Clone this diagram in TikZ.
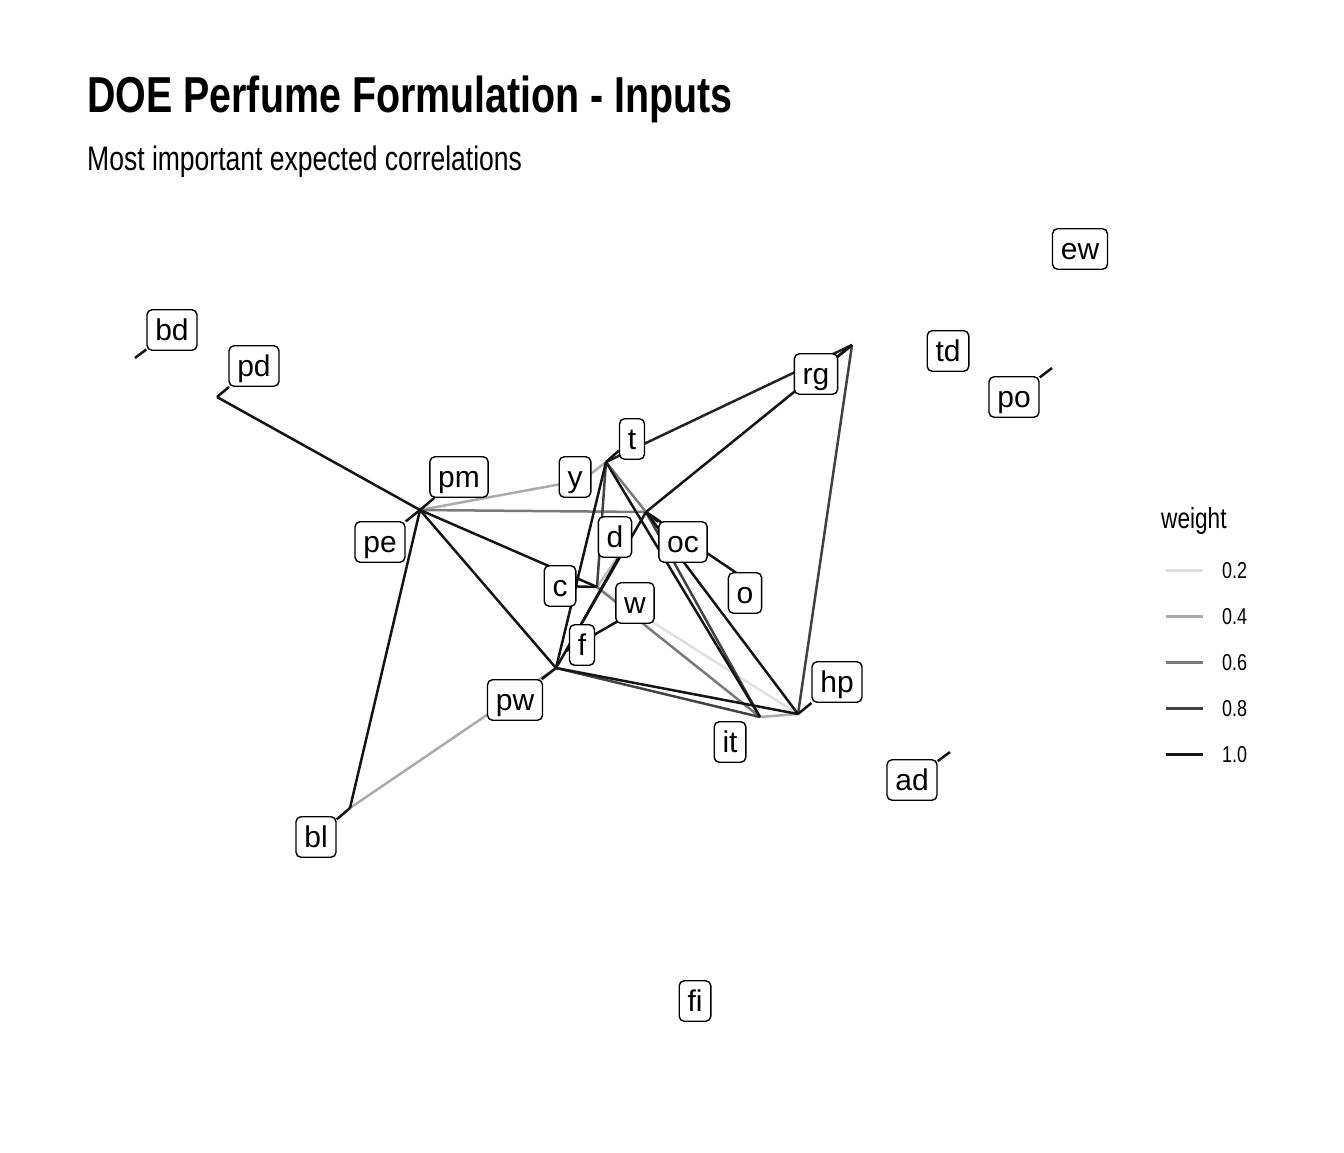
\documentclass[tikz,border=0pt]{standalone}
\usepackage{fontspec}
\setmainfont{Liberation Sans}
\newfontfamily\narrowfont[FakeStretch=0.78]{Liberation Sans}
\usetikzlibrary{backgrounds}

\colorlet{wtwo}{black!12}
\colorlet{wthree}{black!25}
\colorlet{wfour}{black!33}
\colorlet{wsix}{black!52}
\colorlet{weight}{black!74}
\colorlet{wnine}{black!86}
\colorlet{wten}{black!92}

\begin{document}
\begin{tikzpicture}[
    x = 1pt,
    y = -1pt,
    lbl/.style = {draw, fill=white, rounded corners=5pt, line width=1.4pt,
      font=\fontsize{30}{31}\selectfont, inner xsep=8.3pt, inner ysep=6.25pt,
      text height=24pt, text depth=4pt},
    edge/.style = {line width=2.5pt},
    seg/.style = {line width=2.5pt, color=wten},
    ]
    \useasboundingbox (0,0) rectangle (1344,1152);
    % titles
    \node[anchor=base west, inner sep=0pt, font=\narrowfont\bfseries\fontsize{50.5}{52}\selectfont]
    (title) at (87,112) {DOE Perfume Formulation - Inputs};
    \node[anchor=base west, inner sep=0pt, font=\narrowfont\fontsize{34}{36}\selectfont]
    (subtitle) at (87,170) {Most important expected correlations};
    % node points
    \coordinate (p-bd) at (135,358);
    \coordinate (p-pd) at (217,397);
    \coordinate (p-pm) at (420,510);
    \coordinate (p-pe) at (420,510);
    \coordinate (p-t) at (606,462);
    \coordinate (p-y) at (583,480);
    \coordinate (p-rg) at (852,345);
    \coordinate (p-po) at (1052,368);
    \coordinate (p-oc) at (646,512);
    \coordinate (p-d) at (624,548);
    \coordinate (p-c) at (597,587);
    \coordinate (p-w) at (632,613);
    \coordinate (p-o) at (741,576);
    \coordinate (p-f) at (566,651);
    \coordinate (p-pw) at (556,668);
    \coordinate (p-it) at (760,717);
    \coordinate (p-hp) at (798,714);
    \coordinate (p-ad) at (950,752);
    \coordinate (p-bl) at (350,808);
    % labels
    \node[lbl] (ew) at (1080,249) {ew};
    \node[lbl] (bd) at (172,330) {bd};
    \node[lbl] (pd) at (254,366) {pd};
    \node[lbl] (td) at (948,351) {td};
    \node[lbl] (rg) at (816,374) {rg};
    \node[lbl] (po) at (1014,397) {po};
    \node[lbl] (t) at (632,439) {t};
    \node[lbl] (pm) at (459,477) {pm};
    \node[lbl] (y) at (575,477) {y};
    \node[lbl] (pe) at (380,542) {pe};
    \node[lbl] (d) at (615,537) {d};
    \node[lbl] (oc) at (683,542) {oc};
    \node[lbl] (c) at (560,586) {c};
    \node[lbl] (w) at (635,603) {w};
    \node[lbl] (o) at (745,593) {o};
    \node[lbl] (f) at (582,645) {f};
    \node[lbl] (hp) at (837,682) {hp};
    \node[lbl] (pw) at (515,700) {pw};
    \node[lbl] (it) at (730,742) {it};
    \node[lbl] (ad) at (912,780) {ad};
    \node[lbl] (bl) at (316,837) {bl};
    \node[lbl] (fi) at (695,1001) {fi};
    \begin{pgfonlayer}{background}
      \fill[white] (0,0) rectangle (1344,1152);
      % weak edges
      \draw[edge, wtwo] (p-c) -- (p-hp);
      \draw[edge, wthree] (p-c) -- (p-d);
      \draw[edge, wfour] (p-pm) -- (p-y);
      \draw[edge, wfour] (p-t) -- (p-y);
      \draw[edge, wfour] (p-pw) -- (p-bl);
      \draw[edge, wfour] (p-it) -- (p-hp);
      \draw[edge, wsix] (p-pm) -- (p-oc);
      \draw[edge, wsix] (p-t) -- (p-oc);
      \draw[edge, wsix] (p-c) -- (p-it);
      % strong edges
      \foreach \a/\b in {t/c, oc/it, pw/it, rg/hp}
      \draw[edge, weight] (p-\a) -- (p-\b);
      \draw[edge, wnine] (p-t) -- (p-rg);
      \foreach \a/\b in {pd/pm, pe/bl, pm/c, pm/pw, t/pw, t/it, oc/rg,
        oc/pw, d/f, oc/hp, oc/o, f/w, pw/hp}
      \draw[edge, wten] (p-\a) -- (p-\b);
      % label segments
      \foreach \n in {bd, pd, pm, pe, t, rg, po, oc, hp, pw, bl, ad, c}
      \draw[seg] (p-\n) -- (\n);
    \end{pgfonlayer}
    % legend
    \node[anchor=base west, inner sep=0pt, font=\narrowfont\fontsize{29}{30}\selectfont]
    (legend) at (1161,528) {weight};
    \foreach \c/\v/\yy in {wtwo/0.2/570, wfour/0.4/616, wsix/0.6/662,
      weight/0.8/708, wten/1.0/754} {
      \draw[line width=3pt, \c] (1166,\yy) -- (1203,\yy);
      \node[anchor=base west, inner sep=0pt, font=\narrowfont\fontsize{23}{24}\selectfont]
      at (1222,\yy+8) {\v};
    }
  \end{tikzpicture}
\end{document}
